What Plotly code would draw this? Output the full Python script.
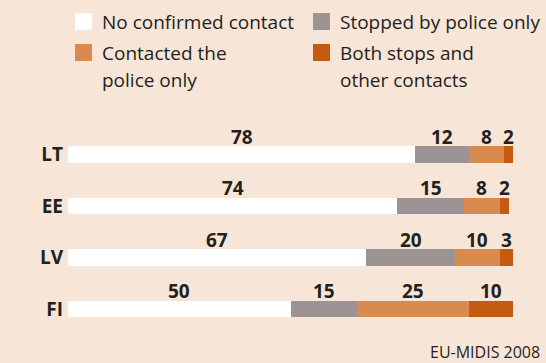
import plotly.graph_objects as go

# Share of respondents by type of police contact (%)
countries = ["LT", "EE", "LV", "FI"]
no_contact = [78, 74, 67, 50]
stopped_only = [12, 15, 20, 15]
contacted_only = [8, 8, 10, 25]
both = [2, 2, 3, 10]

series_names = [
    "No confirmed contact",
    "Stopped by police only",
    "Contacted the police only",
    "Both stops and other contacts",
]
legend_lines = [
    ["No confirmed contact"],
    ["Stopped by police only"],
    ["Contacted the", "police only"],
    ["Both stops and", "other contacts"],
]
source_note = "EU-MIDIS 2008"

series = [no_contact, stopped_only, contacted_only, both]
colors = ["#FFFFFF", "#9C9494", "#D98A4E", "#C75A12"]
bg = "#F7E5D7"
ink = "#231F20"

W, H = 546, 363
ML, MR, MT, MB = 68, 33, 129, 21
PW, PH = W - ML - MR, H - MT - MB


def px_x(p):
    return (p - ML) / PW


def px_y(p):
    return (H - MB - p) / PH


fig = go.Figure()
for name, vals, col in zip(series_names, series, colors):
    fig.add_trace(go.Bar(
        name=name, y=countries, x=vals, orientation="h",
        marker=dict(color=col, line=dict(width=0)),
        showlegend=False, hoverinfo="x+y",
    ))

annotations = []
# value labels centred above each segment
for i, c in enumerate(countries):
    start = 0
    for vals in series:
        v = vals[i]
        annotations.append(dict(
            x=start + v / 2, y=c, xref="x", yref="y",
            text=str(v), showarrow=False,
            yanchor="bottom", yshift=3,
            font=dict(family="Open Sans", size=19, color=ink, weight="bold"),
        ))
        start += v

# legend: swatches and labels in two columns
shapes = []
legend_pos = [(75, 13), (313, 13), (75, 44), (313, 44)]
for (lx, ly), col, lines in zip(legend_pos, colors, legend_lines):
    shapes.append(dict(
        type="rect", xref="paper", yref="paper",
        x0=px_x(lx), x1=px_x(lx + 17), y0=px_y(ly), y1=px_y(ly + 17),
        fillcolor=col, line=dict(width=0), layer="above",
    ))
    for k, line in enumerate(lines):
        annotations.append(dict(
            x=px_x(lx + 25), y=px_y(ly + 9 + 27 * k), xref="paper", yref="paper",
            text=line, showarrow=False, xanchor="left", yanchor="middle",
            font=dict(family="Open Sans", size=19, color=ink),
        ))

annotations.append(dict(
    x=px_x(542), y=px_y(352), xref="paper", yref="paper",
    text=source_note, showarrow=False, xanchor="right", yanchor="middle",
    font=dict(family="Open Sans", size=16, color=ink),
))

fig.update_layout(
    width=W, height=H,
    margin=dict(l=ML, r=MR, t=MT, b=MB),
    barmode="stack", bargap=0.68,
    paper_bgcolor=bg, plot_bgcolor=bg,
    xaxis=dict(range=[0, 100], visible=False, fixedrange=True),
    yaxis=dict(
        autorange="reversed", showgrid=False, zeroline=False, showline=False,
        ticks="", ticklabelstandoff=4,
        tickfont=dict(family="Open Sans", size=19, color=ink, weight="bold"),
    ),
    annotations=annotations, shapes=shapes,
    showlegend=False,
)

fig.write_html("out.html")
